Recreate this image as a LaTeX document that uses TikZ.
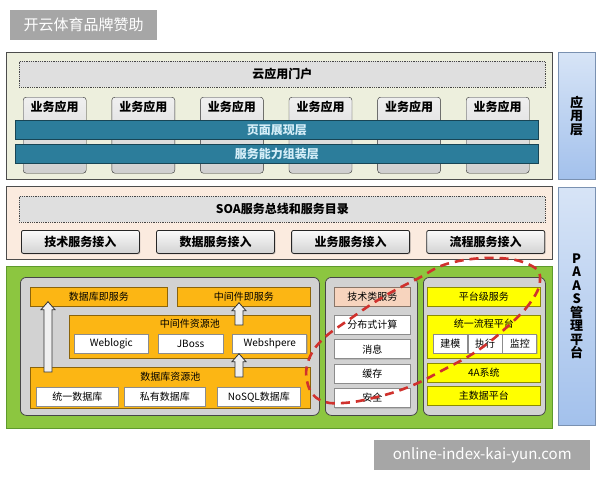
\documentclass[tikz,border=0pt]{standalone}
\usepackage{fontspec}
\setmainfont{Noto Sans CJK SC}
\usetikzlibrary{positioning,calc,shadows}

\definecolor{appbg}{HTML}{EDEFDD}
\definecolor{soabg}{HTML}{FBEBDF}
\definecolor{paasbg}{HTML}{8CC640}
\definecolor{paasline}{HTML}{5E9A2C}
\definecolor{panelbg}{HTML}{D2D2D2}
\definecolor{bandbg}{HTML}{2C7D9B}
\definecolor{bandtext}{HTML}{D5EEF8}
\definecolor{ambox}{HTML}{FCB614}
\definecolor{yelbox}{HTML}{FFFF00}
\definecolor{peach}{HTML}{F7D4BE}
\definecolor{sidetop}{HTML}{D7E4F6}
\definecolor{sidebot}{HTML}{A3C1EC}
\definecolor{markgray}{HTML}{A6A6A6}
\definecolor{redline}{HTML}{D0312D}

% hollow block arrow pointing up, from #1 (foot) to #2 (tip)
\newcommand{\hollowup}[2]{%
  \path[hollow] let \p1=(#1), \p2=(#2) in
    (\x1-4pt,\y1) -- (\x1-4pt,\y2-8pt) -- (\x1-7pt,\y2-8pt) -- (\x1,\y2)
    -- (\x1+7pt,\y2-8pt) -- (\x1+4pt,\y2-8pt) -- (\x1+4pt,\y1) -- cycle;}

\begin{document}
\begin{tikzpicture}[x=1pt,y=-1pt,
    font=\fontsize{10}{12}\selectfont,
    wmark/.style={fill=markgray,text=white,anchor=north west,inner sep=0pt,
      font=\fontsize{15}{18}\selectfont},
    layer/.style={draw=#1,line width=1pt,anchor=north west,inner sep=0pt},
    dotbox/.style={draw=gray!55!black,fill=gray!25,densely dotted,line width=0.8pt,
      anchor=north west,inner sep=0pt,minimum height=26pt,minimum width=526pt,
      font=\fontsize{12}{14}\selectfont\bfseries},
    appbox/.style={draw=gray!35!black,top color=gray!12,bottom color=gray!38,
      rounded corners=3pt,anchor=north west,inner xsep=0pt,inner ysep=3pt,
      minimum width=63pt,text height=11pt,text depth=59pt,
      font=\fontsize{12}{14}\selectfont\bfseries},
    band/.style={draw=bandbg!55!black,fill=bandbg,text=bandtext,line width=0.8pt,
      anchor=north west,inner sep=0pt,minimum width=523pt,minimum height=19pt,
      font=\fontsize{12}{14}\selectfont\bfseries},
    sidebox/.style={draw=sidebot!75!black,top color=sidetop,bottom color=sidebot,
      anchor=north west,inner sep=0pt,minimum width=37pt,align=center,
      font=\fontsize{13}{13.5}\selectfont\bfseries},
    button/.style={draw=gray!30!black,top color=gray!4,bottom color=gray!35,
      rounded corners=2pt,line width=0.8pt,inner sep=0pt,minimum width=118pt,
      minimum height=23pt,font=\fontsize{12}{14}\selectfont\bfseries,
      drop shadow={opacity=0.35,shadow xshift=1pt,shadow yshift=-1pt}},
    panel/.style={draw=gray!55!black,fill=panelbg,rounded corners=6pt,line width=0.8pt,
      anchor=north west,inner sep=0pt,minimum height=138pt},
    item/.style={draw=#1!55!black,fill=#1,anchor=north west,inner sep=0pt,
      minimum height=19pt,line width=0.7pt,
      drop shadow={opacity=0.3,shadow xshift=1pt,shadow yshift=-1pt}},
    pool/.style={draw=#1!55!black,fill=#1,anchor=north west,inner xsep=0pt,
      inner ysep=3pt,line width=0.7pt},
    hollow/.style={draw=gray!40!black,fill=gray!12,line width=0.8pt}]

  \useasboundingbox (0,0) rectangle (600,480);

  % watermarks
  \node[wmark,minimum width=147pt,minimum height=30pt] (brand) at (10,10) {开云体育品牌赞助};
  \node[wmark,minimum width=216pt,minimum height=30pt] (site) at (374,440) {online-index-kai-yun.com};

  % application layer
  \node[layer=gray!60!black,fill=appbg,minimum width=546pt,minimum height=127pt] (applayer) at (6,52) {};
  \node[dotbox] (portal) at (19,61) {云应用门户};
  \node[appbox] (app1) at (23,97) {业务应用};
  \node[appbox,right=25.2pt of app1] (app2) {业务应用};
  \node[appbox,right=25.2pt of app2] (app3) {业务应用};
  \node[appbox,right=25.2pt of app3] (app4) {业务应用};
  \node[appbox,right=25.2pt of app4] (app5) {业务应用};
  \node[appbox,right=25.2pt of app5] (app6) {业务应用};
  \node[band] (view) at (15,120) {页面展现层};
  \node[band] (assemble) at (15,144) {服务能力组装层};
  \node[sidebox,minimum height=127pt] (appside) at (558,52) {应\\用\\层};

  % SOA layer
  \node[layer=gray!60!black,fill=soabg,minimum width=546pt,minimum height=73pt] (soalayer) at (6,186) {};
  \node[dotbox] (bus) at (19,196) {SOA服务总线和服务目录};
  \node[button,anchor=north west] (tech) at (21,230) {技术服务接入};
  \node[button,right=16.3pt of tech] (data) {数据服务接入};
  \node[button,right=16.3pt of data] (biz) {业务服务接入};
  \node[button,right=16.3pt of biz] (flowin) {流程服务接入};
  \node[sidebox,minimum height=238pt] (paasside) at (558,187)
    {P\\A\\A\\S\\管\\理\\平\\台};

  % PAAS layer
  \node[layer=paasline,fill=paasbg,minimum width=546pt,minimum height=162pt] (paaslayer) at (6,266) {};
  \node[panel,minimum width=299pt] (pleft) at (20,277) {};
  \node[panel,minimum width=92pt] (pmid) at (325,277) {};
  \node[panel,minimum width=122pt] (pright) at (423,277) {};

  % left panel
  \node[item=ambox,minimum width=137pt] (dbsvc) at (30,287) {数据库即服务};
  \node[item=ambox,minimum width=133pt] (mwsvc) at (177,287) {中间件即服务};
  \node[pool=ambox,minimum width=241pt,text height=9pt,text depth=28pt] (mwpool) at (69,315) {中间件资源池};
  \node[item=white,minimum width=74pt] (weblogic) at (74,334) {Weblogic};
  \node[item=white,minimum width=65pt,right=9pt of weblogic] (jboss) {JBoss};
  \node[item=white,minimum width=74pt,right=9pt of jboss] (websphere) {Webshpere};
  \node[pool=ambox,minimum width=280pt,text height=10pt,text depth=25pt] (dbpool) at (30,367) {数据库资源池};
  \node[item=white,minimum width=82pt] (db1) at (36,387) {统一数据库};
  \node[item=white,minimum width=81pt] (db2) at (124,387) {私有数据库};
  \node[item=white,minimum width=83pt] (db3) at (217,387) {NoSQL数据库};

  \hollowup{$(dbpool.north west)+(18,5)$}{$(dbsvc.south west)+(18,-5)$}
  \hollowup{$(mwpool.north west)+(170,10)$}{$(mwsvc.south west)+(62,-4)$}
  \hollowup{$(dbpool.north west)+(209,10)$}{$(websphere.south west)+(7,0)$}

  % middle panel
  \node[item=peach,minimum width=76pt] (techsvc) at (334,287) {技术类服务};
  \node[item=white,minimum width=76pt] (dist) at (334,315) {分布式计算};
  \node[item=white,minimum width=76pt,below=4.7pt of dist] (msg) {消息};
  \node[item=white,minimum width=76pt,below=4.7pt of msg] (cache) {缓存};
  \node[item=white,minimum width=76pt,below=4.7pt of cache] (sec) {安全};

  % right panel
  \node[item=yelbox,minimum width=113pt] (pltsvc) at (427,287) {平台级服务};
  \node[pool=yelbox,minimum width=113pt,text height=9pt,text depth=28pt] (flow) at (427,315) {统一流程平台};
  \node[item=white,minimum width=34pt] (model) at (433,334) {建模};
  \node[item=white,minimum width=34pt,right=0pt of model] (exec) {执行};
  \node[item=white,minimum width=34pt,right=0pt of exec] (mon) {监控};
  \node[item=yelbox,minimum width=113pt] (auth) at (427,363) {4A系统};
  \node[item=yelbox,minimum width=113pt] (mdm) at (427,386) {主数据平台};

  % highlight
  \draw[redline,line width=2.6pt,dash pattern=on 9pt off 6pt]
    plot[smooth cycle,tension=0.7] coordinates {(540,281) (530,303) (507,327) (477,351)
      (443,370) (411,386) (377,397) (343,403) (320,400) (308,385) (308,362) (322,340)
      (350,319) (383,297) (417,279) (450,263) (498,258) (532,266)};

\end{tikzpicture}
\end{document}
